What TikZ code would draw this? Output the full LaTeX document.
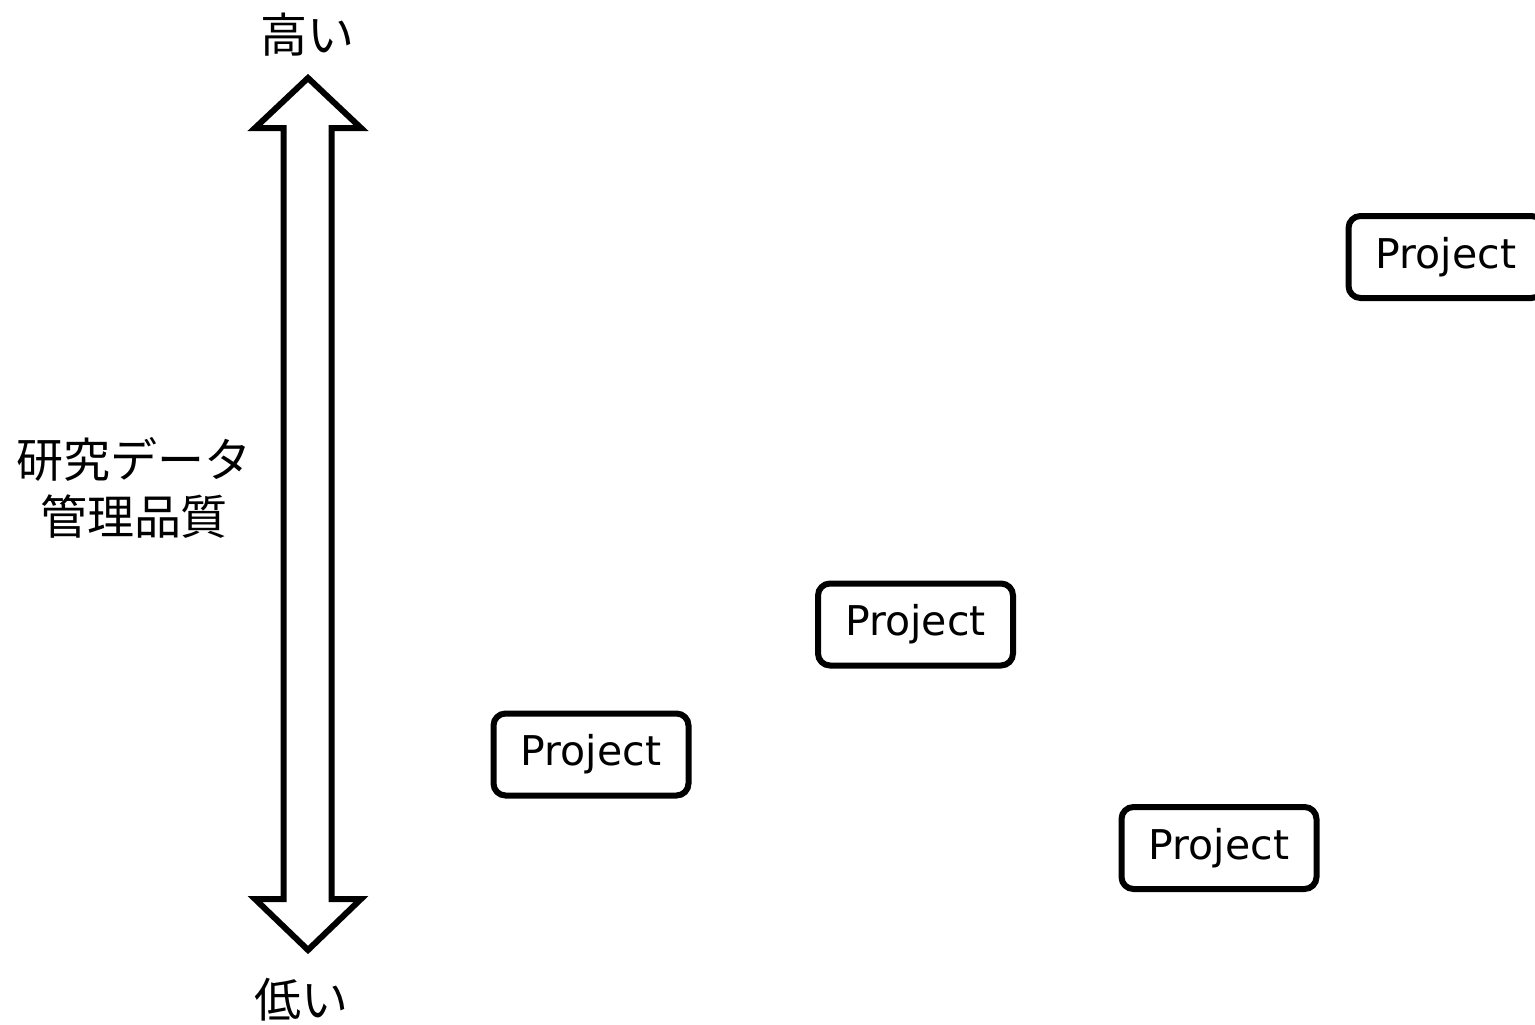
\documentclass[tikz,border=0pt]{standalone}
\usepackage{fontspec}
\newfontfamily\jp{Noto Sans CJK JP}
\newfontfamily\lat{DejaVu Sans}
\begin{document}
\begin{tikzpicture}[x=1pt,y=-1pt,
  proj/.style={draw=black,line width=6pt,rounded corners=12pt,minimum width=195pt,minimum height=82pt,inner sep=0pt,font=\lat\fontsize{41}{48}\selectfont},
  jlabel/.style={font=\jp\fontsize{47}{57}\selectfont,align=center,inner sep=0pt}]
\useasboundingbox (0,0) rectangle (1535,1025);
\clip (0,0) rectangle (1535,1025);
% double-headed hollow arrow
\draw[line width=6pt,line join=miter,fill=white]
  (308,78) -- (255,128) -- (283.5,128) -- (283.5,899) -- (255,899) -- (308,950)
  -- (361,899) -- (331.5,899) -- (331.5,128) -- (361,128) -- cycle;
% axis labels
\node[jlabel] (high) at (307,35) {高い};
\node[jlabel] (low) at (301,1000) {低い};
\node[jlabel] (axis) at (134,488) {研究データ\\管理品質};
% projects
\node[proj] (p1) at (591,754.5) {Project};
\node[proj] (p2) at (915.5,624.5) {Project};
\node[proj] (p3) at (1219,848) {Project};
\node[proj] (p4) at (1446,257) {Project};
\end{tikzpicture}
\end{document}
